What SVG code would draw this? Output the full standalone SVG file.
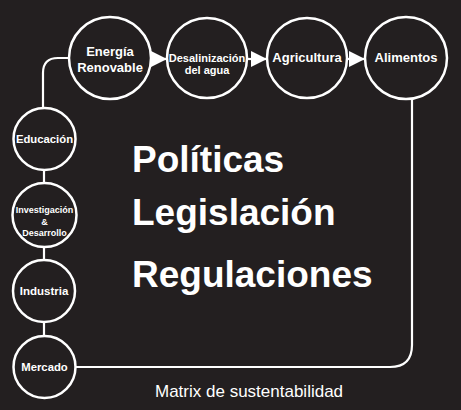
<svg xmlns="http://www.w3.org/2000/svg" width="461" height="410" viewBox="0 0 461 410">
<style>
.bg{fill:#231f20}
.node circle{fill:#231f20;stroke:#ffffff;stroke-width:2.5}
.lbl{font-family:"Liberation Sans",Arial,sans-serif;font-weight:bold;fill:#ffffff;text-anchor:middle}
.big{font-family:"Liberation Sans",Arial,sans-serif;font-weight:bold;fill:#ffffff;font-size:37px}
.cap{font-family:"Liberation Sans",Arial,sans-serif;fill:#ffffff;font-size:17px}
.conn{fill:none;stroke:#ffffff;stroke-width:2.2}
</style>
<defs>
<marker id="tri" markerUnits="userSpaceOnUse" markerWidth="16" markerHeight="16" refX="16" refY="8" orient="auto">
<path d="M0,0 L16,8 L0,16 Z" fill="#ffffff"/>
</marker>
</defs>
<rect class="bg" x="0" y="0" width="461" height="410"/>
<g id="connectors">
<path class="conn" d="M43,108 V73 Q43,58 58,58 H70"/>
<path class="conn" d="M76,367 H390 Q412,367 412,345 V99"/>
<line class="conn" x1="44" y1="170" x2="44" y2="183"/>
<line class="conn" x1="44" y1="247" x2="44" y2="260"/>
<line class="conn" x1="44" y1="322" x2="44" y2="336"/>
<line class="conn" x1="151" y1="59" x2="167" y2="59" marker-end="url(#tri)"/>
<line class="conn" x1="247" y1="59" x2="267" y2="59" marker-end="url(#tri)"/>
<line class="conn" x1="347" y1="59" x2="365" y2="59" marker-end="url(#tri)"/>
</g>
<g id="energia" class="node"><circle cx="110" cy="58" r="41"/>
<text class="lbl" font-size="13" x="110" y="56">Energía</text>
<text class="lbl" font-size="13" x="110" y="72">Renovable</text></g>
<g id="desalinizacion" class="node"><circle cx="207" cy="58" r="40"/>
<text class="lbl" font-size="11" x="207" y="62">Desalinización</text>
<text class="lbl" font-size="11" x="207" y="74">del agua</text></g>
<g id="agricultura" class="node"><circle cx="307" cy="58" r="40"/>
<text class="lbl" font-size="13" x="307" y="62">Agricultura</text></g>
<g id="alimentos" class="node"><circle cx="406" cy="58" r="41"/>
<text class="lbl" font-size="13" x="406" y="62">Alimentos</text></g>
<g id="educacion" class="node"><circle cx="44.5" cy="139" r="31"/>
<text class="lbl" font-size="11.3" x="44.5" y="143">Educación</text></g>
<g id="investigacion" class="node"><circle cx="44.5" cy="215" r="32"/>
<text class="lbl" font-size="9" x="44.5" y="213">Investigación</text>
<text class="lbl" font-size="9" x="44.5" y="225">&amp;</text>
<text class="lbl" font-size="9" x="44.5" y="236">Desarrollo</text></g>
<g id="industria" class="node"><circle cx="44" cy="291" r="31"/>
<text class="lbl" font-size="11.5" x="44" y="295">Industria</text></g>
<g id="mercado" class="node"><circle cx="44.5" cy="367" r="31"/>
<text class="lbl" font-size="11.3" x="44.5" y="371">Mercado</text></g>
<g id="center-text">
<text class="big" x="132" y="172">Políticas</text>
<text class="big" x="132" y="225">Legislación</text>
<text class="big" x="132" y="287">Regulaciones</text>
<text class="cap" x="155" y="397">Matrix de sustentabilidad</text>
</g>
</svg>
